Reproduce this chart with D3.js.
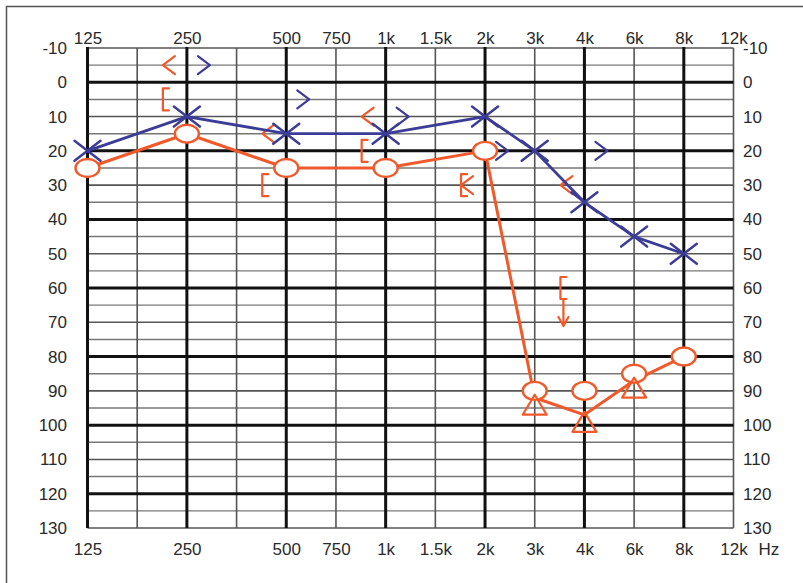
<!DOCTYPE html>
<html>
<head>
<meta charset="utf-8">
<script src="https://cdn.jsdelivr.net/npm/d3@7/dist/d3.min.js"></script>
<style>
  html, body { margin: 0; padding: 0; background: #fff; }
  svg { display: block; }
  text { font-family: "Liberation Sans", Arial, sans-serif; font-size: 17px; fill: #2a2a2a; }
</style>
</head>
<body>
<svg id="chart" width="803" height="583"></svg>
<script>
// ---------- data ----------
const freqSlots  = ['125','180','250','355','500','750','1k','1.5k','2k','3k','4k','6k','8k','12k'];
const freqLabels = ['125','250','500','750','1k','1.5k','2k','3k','4k','6k','8k','12k'];
const thickFreqs = ['125','250','500','1k','2k','4k','8k'];
const dbLabels   = [-10,0,10,20,30,40,50,60,70,80,90,100,110,120,130];
const dbGrid5    = [-5,5,15,25,35,45,55,65,75,85,95,105,115,125];
const dbThick    = [0,20,40,60,80,100,120];

const testFreqs  = ['125','250','500','1k','2k','3k','4k','6k','8k'];
const leftAC     = [20,10,15,15,10,20,35,45,50];        // blue X
const rightAC    = [25,15,25,25,20,90,90,85,80];        // orange O
const rightLine  = [25,15,25,25,20,92,97,87,80];        // orange connecting line
const maskFreqs  = ['3k','4k','6k'];
const rightMasked= [92,97,87];                          // orange triangles

const rightBCFreqs = ['250','500','1k','2k','4k'];
const rightBC      = [-5,15,10,30,30];                  // orange <
const rightMBCFreqs= ['250','500','1k','2k','4k'];
const rightMBC     = [5,30,20,30,60];                   // orange [
const rightMBCNR   = [false,false,false,false,true];    // no response arrow
const leftBCFreqs  = ['250','500','1k','2k','4k'];
const leftBC       = [-5,5,10,20,20];                   // blue >

// ---------- setup ----------
const ORANGE = '#f0592a', BLUE = '#3b3c98';
const FONT = '"Liberation Sans", Arial, sans-serif';
const svg = d3.select('#chart');
const x = d3.scalePoint().domain(freqSlots).range([87.5, 733.5]);
const y = d3.scaleLinear().domain([-10, 130]).range([48, 528]);

// outer frame
svg.append('path').attr('d', 'M6.5,583 L6.5,6.5 L803,6.5')
  .attr('fill', 'none').attr('stroke', '#555').attr('stroke-width', 1.5);

// ---------- grid ----------
const g = svg.append('g');
g.selectAll('.h5').data(dbGrid5).join('line')
  .attr('x1', x('125')).attr('x2', x('12k'))
  .attr('y1', d => y(d)).attr('y2', d => y(d))
  .attr('stroke', '#777').attr('stroke-width', 1.4);
g.selectAll('.h10').data(dbLabels.filter(d => !dbThick.includes(d))).join('line')
  .attr('x1', x('125')).attr('x2', x('12k'))
  .attr('y1', d => y(d)).attr('y2', d => y(d))
  .attr('stroke', '#555').attr('stroke-width', 1.6);
g.selectAll('.vthin').data(freqSlots.filter(d => !thickFreqs.includes(d))).join('line')
  .attr('x1', d => x(d)).attr('x2', d => x(d))
  .attr('y1', y(-10)).attr('y2', y(130))
  .attr('stroke', '#555').attr('stroke-width', 1.6);
g.selectAll('.hthick').data(dbThick).join('line')
  .attr('x1', x('125')).attr('x2', x('12k'))
  .attr('y1', d => y(d)).attr('y2', d => y(d))
  .attr('stroke', '#111').attr('stroke-width', 3);
g.selectAll('.vthick').data(thickFreqs).join('line')
  .attr('x1', d => x(d)).attr('x2', d => x(d))
  .attr('y1', y(-10) - 1).attr('y2', y(130))
  .attr('stroke', '#111').attr('stroke-width', 3);

// ---------- axes (labels) ----------
function styleAxis(sel) {
  sel.select('.domain').remove();
  sel.selectAll('text').style('font-size', '17px').style('font-family', FONT).attr('fill', '#2a2a2a');
}
const fmt = d => String(d);
const ta = svg.append('g').attr('transform', 'translate(0,44)')
  .call(d3.axisTop(x).tickValues(freqLabels).tickSize(0).tickPadding(0));
styleAxis(ta); ta.selectAll('text').attr('dy', 0);

const ba = svg.append('g').attr('transform', 'translate(0,555)')
  .call(d3.axisBottom(x).tickValues(freqLabels).tickSize(0).tickPadding(0));
styleAxis(ba); ba.selectAll('text').attr('dy', 0);
svg.append('text').attr('x', x('12k') + 25).attr('y', 555).text('Hz');

const la = svg.append('g').attr('transform', 'translate(67,0)')
  .call(d3.axisLeft(y).tickValues(dbLabels).tickFormat(fmt).tickSize(0).tickPadding(0));
styleAxis(la);

const ra = svg.append('g').attr('transform', 'translate(743,0)')
  .call(d3.axisRight(y).tickValues(dbLabels).tickFormat(fmt).tickSize(0).tickPadding(0));
styleAxis(ra);

// ---------- orange (right ear) ----------
const o = svg.append('g').attr('fill', 'none').attr('stroke', ORANGE).attr('stroke-width', 2.2)
  .attr('stroke-linecap', 'round').attr('stroke-linejoin', 'round');

// "<" unmasked BC
o.selectAll('.lt').data(rightBCFreqs.map((f, i) => ({f, v: rightBC[i]}))).join('path')
  .attr('d', d => { const cx = x(d.f) - 18, cy = y(d.v); return `M${cx+6},${cy-9} L${cx-6},${cy} L${cx+6},${cy+9}`; });
// "[" masked BC
const mbc = rightMBCFreqs.map((f, i) => ({f, v: rightMBC[i], nr: rightMBCNR[i]}));
o.selectAll('.br').data(mbc).join('path')
  .attr('d', d => { const cx = x(d.f) - 21, cy = y(d.v); return `M${cx+3},${cy-11} L${cx-3},${cy-11} L${cx-3},${cy+11} L${cx+3},${cy+11}`; });
// no-response arrows
o.selectAll('.nr').data(mbc.filter(d => d.nr)).join('path')
  .attr('d', d => { const cx = x(d.f) - 21, cy = y(d.v); return `M${cx},${cy+12} L${cx},${cy+38} M${cx-5},${cy+29} L${cx},${cy+38} L${cx+5},${cy+29}`; });

// connecting line
o.append('path').datum(testFreqs.map((f, i) => ({f, v: rightLine[i]})))
  .attr('stroke-width', 3)
  .attr('d', d3.line().x(d => x(d.f)).y(d => y(d.v)));
// circles
o.selectAll('.circ').data(testFreqs.map((f, i) => ({f, v: rightAC[i]}))).join('ellipse')
  .attr('cx', d => x(d.f)).attr('cy', d => y(d.v)).attr('rx', 12).attr('ry', 9)
  .attr('fill', '#fff').attr('stroke-width', 2.4);
// triangles (masked AC)
o.selectAll('.tri').data(maskFreqs.map((f, i) => ({f, v: rightMasked[i]}))).join('path')
  .attr('d', d => { const cx = x(d.f), cy = y(d.v); return `M${cx},${cy-3} L${cx+12},${cy+17} L${cx-12},${cy+17} Z`; });

// ---------- blue (left ear) ----------
const b = svg.append('g').attr('fill', 'none').attr('stroke', BLUE).attr('stroke-width', 2.8)
  .attr('stroke-linecap', 'round').attr('stroke-linejoin', 'round');
b.selectAll('.gt').data(leftBCFreqs.map((f, i) => ({f, v: leftBC[i]}))).join('path')
  .attr('stroke-width', 2.2)
  .attr('d', d => { const cx = x(d.f) + 17, cy = y(d.v); return `M${cx-6},${cy-9} L${cx+6},${cy} L${cx-6},${cy+9}`; });
b.append('path').datum(testFreqs.map((f, i) => ({f, v: leftAC[i]})))
  .attr('d', d3.line().x(d => x(d.f)).y(d => y(d.v)));
b.selectAll('.x').data(testFreqs.map((f, i) => ({f, v: leftAC[i]}))).join('path')
  .attr('stroke-width', 2.5)
  .attr('d', d => { const cx = x(d.f), cy = y(d.v); return `M${cx-13},${cy-10} L${cx+13},${cy+10} M${cx-13},${cy+10} L${cx+13},${cy-10}`; });
</script>
</body>
</html>
